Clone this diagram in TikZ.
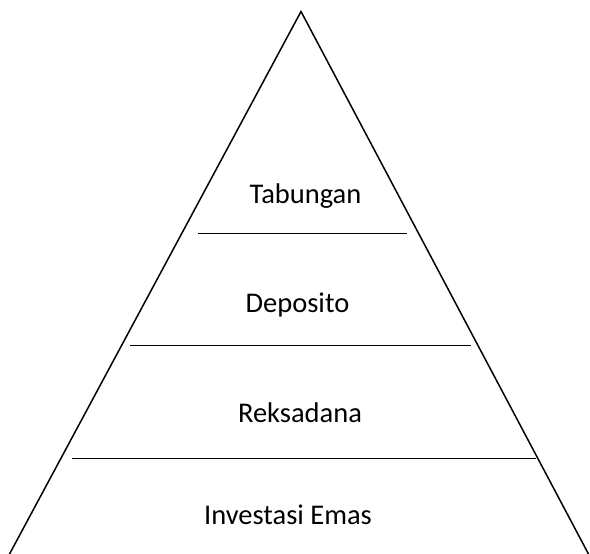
\documentclass[tikz,border=0pt]{standalone}
\usepackage{fontspec}
\setmainfont{Carlito}
\begin{document}
\begin{tikzpicture}[x=1pt,y=1pt,
  edge/.style={draw=black,line width=1.5pt,line join=miter},
  sep/.style={draw=black,line width=1pt},
  label/.style={font=\fontsize{28.5}{34}\selectfont,anchor=base,inner sep=0pt}]
\useasboundingbox (0,0) rectangle (590,554);
\begin{scope}
\clip (0,0) rectangle (590,554);
\coordinate (apex) at (301,542.5);
\coordinate (bl) at (9,-1);
\coordinate (br) at (589,-1);
\draw[edge] (bl) -- (apex) -- (br);
\end{scope}
\coordinate (a1) at (198,320); \coordinate (b1) at (407,320);
\coordinate (a2) at (130,208); \coordinate (b2) at (471,208);
\coordinate (a3) at (72,95);  \coordinate (b3) at (536,95);
\draw[sep] (a1) -- (b1);
\draw[sep] (a2) -- (b2);
\draw[sep] (a3) -- (b3);
\node[label] (tab) at (305.5,350) {Tabungan};
\node[label] (dep) at (297.5,241) {Deposito};
\node[label] (rek) at (300,131.3) {Reksadana};
\node[label] (emas) at (288,29) {Investasi Emas};
\end{tikzpicture}
\end{document}
